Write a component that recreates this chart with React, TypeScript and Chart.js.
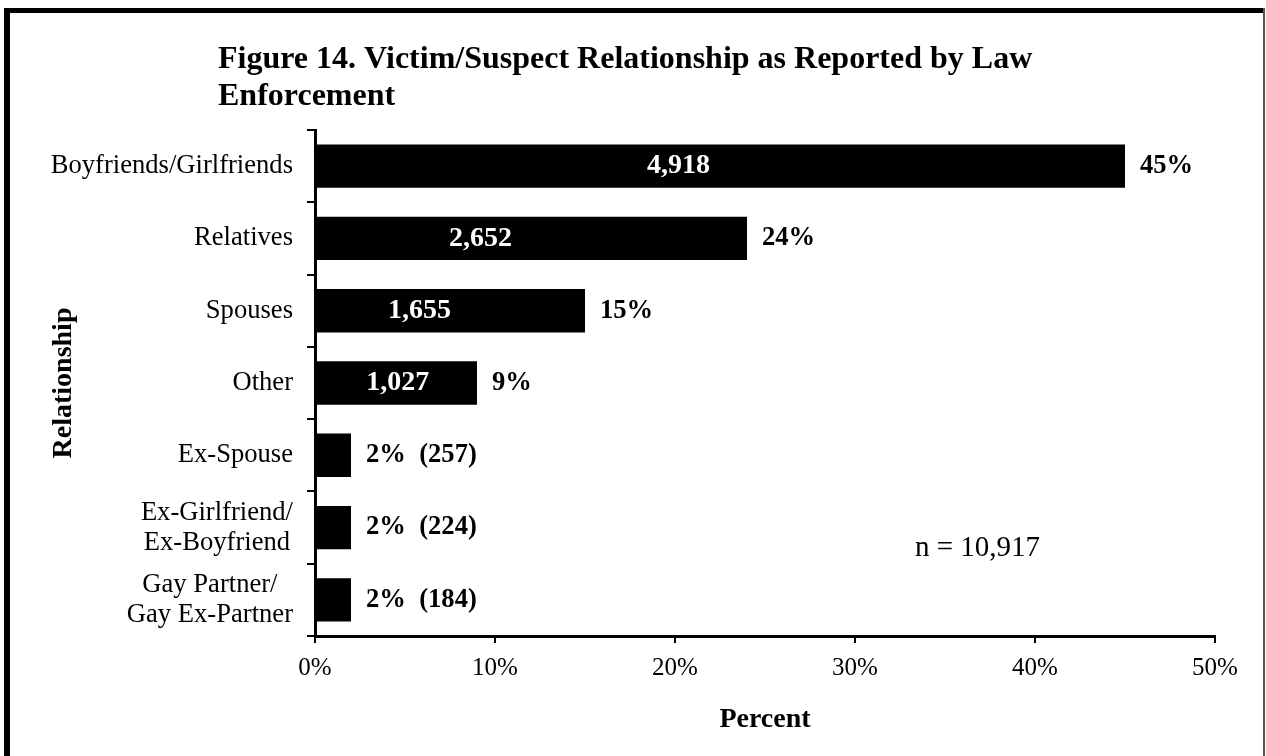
import React, { useEffect, useRef } from "react";
import { Chart, registerables } from "chart.js";

Chart.register(...registerables);

const titleLines = [
  "Figure 14. Victim/Suspect Relationship as Reported by Law",
  "Enforcement",
];
const categories: string[][] = [
  ["Boyfriends/Girlfriends"],
  ["Relatives"],
  ["Spouses"],
  ["Other"],
  ["Ex-Spouse"],
  ["Ex-Girlfriend/", "Ex-Boyfriend"],
  ["Gay Partner/", "Gay Ex-Partner"],
];
const percents = [45, 24, 15, 9, 2, 2, 2];
const counts = [4918, 2652, 1655, 1027, 257, 224, 184];
// where the white count label sits inside the bar (in percent units); null = count shown outside
const countLabelAt: (number | null)[] = [20.2, 9.2, 5.8, 4.6, null, null, null];
const totalN = 10917;
const xTitle = "Percent";
const yTitle = "Relationship";

const SERIF = '"Liberation Serif", "Times New Roman", serif';

const fmt = (n: number) => n.toLocaleString("en-US");

const decor = {
  id: "decor",
  beforeDraw(chart: any) {
    const ctx = chart.ctx;
    ctx.save();
    ctx.fillStyle = "#fff";
    ctx.fillRect(0, 0, chart.width, chart.height);
    ctx.fillStyle = "#000";
    ctx.fillRect(4, 8, 6, chart.height - 8);
    ctx.fillRect(4, 8, 1261, 5);
    ctx.fillStyle = "#555";
    ctx.fillRect(1263, 8, 2, chart.height - 8);
    ctx.fillStyle = "#000";
    ctx.font = `bold 32px ${SERIF}`;
    ctx.textAlign = "left";
    ctx.textBaseline = "alphabetic";
    titleLines.forEach((t, i) => ctx.fillText(t, 218, 68 + i * 37));
    ctx.restore();
  },
  afterDatasetsDraw(chart: any) {
    const ctx = chart.ctx;
    const xs = chart.scales.x;
    const ys = chart.scales.y;
    ctx.save();
    ctx.textBaseline = "middle";
    // category labels (multi-line, lines centred, block right-aligned)
    ctx.font = `26.6px ${SERIF}`;
    ctx.fillStyle = "#000";
    ctx.textAlign = "center";
    const lh = 30;
    categories.forEach((lines, i) => {
      const cy = ys.getPixelForValue(i);
      const w = Math.max(...lines.map((l) => ctx.measureText(l).width));
      const cx = xs.left - 22 - w / 2;
      lines.forEach((l, j) =>
        ctx.fillText(l, cx, cy + (j - (lines.length - 1) / 2) * lh)
      );
    });
    // value labels
    percents.forEach((p, i) => {
      const cy = ys.getPixelForValue(i);
      const px = xs.getPixelForValue(p) + 15;
      const at = countLabelAt[i];
      const text = at == null ? `${p}%  (${fmt(counts[i])})` : `${p}%`;
      ctx.font = `bold 26.6px ${SERIF}`;
      ctx.textAlign = "left";
      ctx.fillStyle = "#000";
      ctx.fillText(text, px, cy);
      if (at != null) {
        ctx.font = `bold 28px ${SERIF}`;
        ctx.textAlign = "center";
        ctx.fillStyle = "#fff";
        ctx.fillText(fmt(counts[i]), xs.getPixelForValue(at), cy);
      }
    });
    // n label
    ctx.font = `29px ${SERIF}`;
    ctx.fillStyle = "#000";
    ctx.textAlign = "left";
    ctx.fillText(`n = ${fmt(totalN)}`, 915, 548);
    ctx.restore();
  },
};

export default function App() {
  const ref = useRef<HTMLCanvasElement>(null);
  useEffect(() => {
    if (!ref.current) return;
    const chart = new Chart(ref.current, {
      type: "bar",
      data: {
        labels: categories as any,
        datasets: [
          {
            data: percents,
            backgroundColor: "#000",
            borderWidth: 0,
            barPercentage: 0.6,
            categoryPercentage: 1.0,
          },
        ],
      },
      options: {
        indexAxis: "y",
        responsive: false,
        animation: false,
        devicePixelRatio: 1,
        layout: { padding: { left: 0, right: 51, top: 130, bottom: 0 } },
        plugins: {
          legend: { display: false },
          tooltip: { enabled: false },
          title: { display: false },
        },
        scales: {
          x: {
            type: "linear",
            min: 0,
            max: 50,
            afterFit: (s: any) => {
              s.height = 120;
            },
            ticks: {
              stepSize: 10,
              color: "#000",
              padding: 10,
              font: { family: SERIF, size: 25 },
              callback: (v: any) => `${v}%`,
            },
            grid: {
              drawOnChartArea: false,
              drawTicks: true,
              tickLength: 7,
              color: "#000",
              lineWidth: 2,
            },
            border: { display: true, color: "#000", width: 3 },
            title: {
              display: true,
              text: xTitle,
              color: "#000",
              font: { family: SERIF, size: 28, weight: "bold" },
              padding: { top: 0, bottom: 19 },
            },
          },
          y: {
            type: "category",
            afterFit: (s: any) => {
              s.width = 315;
            },
            ticks: { display: false },
            grid: {
              drawOnChartArea: false,
              drawTicks: true,
              tickLength: 8,
              color: "#000",
              lineWidth: 2,
            },
            border: { display: true, color: "#000", width: 3 },
            title: {
              display: true,
              text: yTitle,
              color: "#000",
              font: { family: SERIF, size: 28, weight: "bold" },
              padding: { top: 47, bottom: 0 },
            },
          },
        },
      },
      plugins: [decor],
    });
    return () => chart.destroy();
  }, []);
  return (
    <div
      style={{
        position: "fixed",
        left: 0,
        top: 0,
        width: 1266,
        height: 756,
        background: "#fff",
      }}
    >
      <canvas
        ref={ref}
        width={1266}
        height={756}
        style={{ display: "block", width: 1266, height: 756 }}
      />
    </div>
  );
}
